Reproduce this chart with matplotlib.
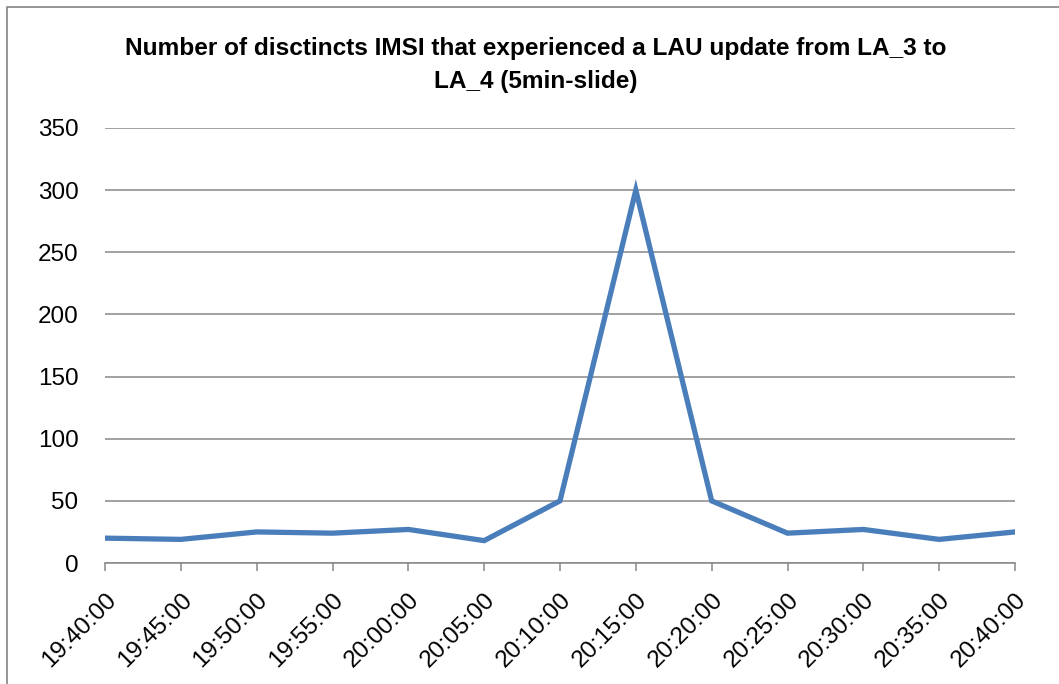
import matplotlib

matplotlib.use("Agg")
import matplotlib.pyplot as plt
from matplotlib.lines import Line2D

# ---- data ---------------------------------------------------------
times = ["19:40:00", "19:45:00", "19:50:00", "19:55:00", "20:00:00",
         "20:05:00", "20:10:00", "20:15:00", "20:20:00", "20:25:00",
         "20:30:00", "20:35:00", "20:40:00"]
imsi_count = [20, 19, 25, 24, 27, 18, 50, 300, 50, 24, 27, 19, 25]
yticks = [0, 50, 100, 150, 200, 250, 300, 350]

title = ("Number of disctincts IMSI that experienced a LAU update from LA_3 to\n"
         "LA_4 (5min-slide)")

GRID = "#878787"
LINE = "#4A7EBB"
FONT = ["Liberation Sans", "DejaVu Sans"]

plt.rcParams["font.family"] = FONT

fig = plt.figure(figsize=(10.59, 6.84), dpi=100)
ax = fig.add_axes([105 / 1059, 1 - 563 / 684, 910 / 1059, 435 / 684])

x = list(range(len(times)))
ax.plot(x, imsi_count, color=LINE, lw=3.8, solid_joinstyle="miter", zorder=3)

ax.set_xlim(0, len(times) - 1)
ax.set_ylim(0, 350)
ax.set_yticks(yticks)
ax.set_yticklabels([str(v) for v in yticks], fontsize=17.5)
ax.yaxis.grid(True, color=GRID, lw=1.1)
ax.set_axisbelow(True)

ax.set_xticks(x)
ax.set_xticklabels(times, fontsize=17.5, rotation=45, ha="right",
                   rotation_mode="anchor", va="top")
ax.tick_params(axis="x", direction="out", length=5.5, width=1.1, color=GRID, pad=13)
ax.tick_params(axis="y", length=0, pad=19)

for side in ("left", "right", "top"):
    ax.spines[side].set_visible(False)
ax.spines["bottom"].set_color(GRID)
ax.spines["bottom"].set_linewidth(1.1)

fig.text(536 / 1059, 1 - 65 / 684, title, ha="center", va="center", fontsize=17.6,
         fontweight="bold", linespacing=1.6)

# chart frame (left and top edges only, as in the reference)
fig.add_artist(Line2D([7 / 1059, 7 / 1059, 1.0], [0.0, 1 - 7 / 684, 1 - 7 / 684],
                      transform=fig.transFigure, color="#8c8c8c", lw=1.3))

fig.savefig("out.png", dpi=100)
